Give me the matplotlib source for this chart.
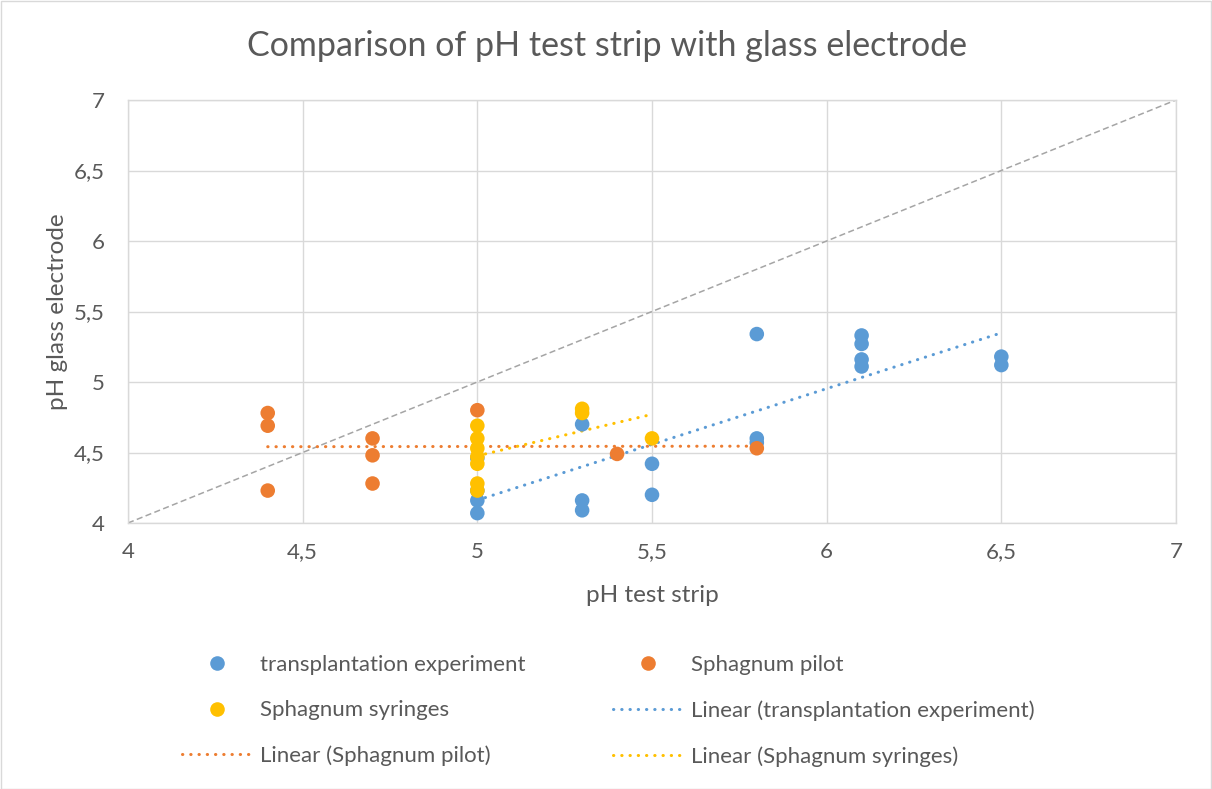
import numpy as np
import matplotlib
matplotlib.use('Agg')
import matplotlib.pyplot as plt
from matplotlib.lines import Line2D
from matplotlib.patches import Rectangle
from matplotlib.ticker import FuncFormatter, MultipleLocator

plt.rcParams['font.family'] = ['Lato', 'DejaVu Sans']

# pH test strip (x) against pH glass electrode (y)
transpl_x = [5, 5, 5, 5, 5.3, 5.3, 5.3, 5.5, 5.5, 5.8, 5.8, 5.8,
             6.1, 6.1, 6.1, 6.1, 6.5, 6.5]
transpl_y = [4.07, 4.16, 4.23, 4.46, 4.70, 4.16, 4.09, 4.42, 4.20, 5.34, 4.60, 4.57,
             5.33, 5.27, 5.16, 5.11, 5.18, 5.12]

pilot_x = [4.4, 4.4, 4.4, 4.7, 4.7, 4.7, 5, 5.4, 5.8]
pilot_y = [4.78, 4.69, 4.23, 4.60, 4.48, 4.28, 4.80, 4.49, 4.53]

syringe_x = [5, 5, 5, 5, 5, 5, 5, 5.3, 5.3, 5.5]
syringe_y = [4.69, 4.60, 4.53, 4.47, 4.42, 4.28, 4.23, 4.81, 4.78, 4.60]

one_to_one = [4, 7]

BLUE = '#5B9BD5'
ORANGE = '#ED7D31'
YELLOW = '#FFC000'
TXT = '#595959'
GRID = '#D9D9D9'

W, H = 1212, 789
fig = plt.figure(figsize=(W / 100, H / 100), dpi=100)
ax = fig.add_axes([128 / W, 1 - 523 / H, (1176 - 128) / W, (523 - 100) / H])

ax.set_xlim(4, 7)
ax.set_ylim(4, 7)
ax.xaxis.set_major_locator(MultipleLocator(0.5))
ax.yaxis.set_major_locator(MultipleLocator(0.5))
fmt = FuncFormatter(lambda v, p: f'{v:g}'.replace('.', ','))
ax.xaxis.set_major_formatter(fmt)
ax.yaxis.set_major_formatter(fmt)
ax.grid(True, color=GRID, lw=1.0, zorder=0)
ax.set_axisbelow(True)
for s in ax.spines.values():
    s.set_color(GRID)
    s.set_linewidth(1.0)
ax.tick_params(length=0, labelsize=16, labelcolor=TXT)
ax.tick_params(axis='x', pad=14)
ax.tick_params(axis='y', pad=17)

ax.plot(one_to_one, one_to_one, color='#A5A5A5', lw=1.1, dashes=(4, 2.2), zorder=1)

dot = dict(lw=2.2, dashes=(0.1, 2.6), dash_capstyle='round', zorder=2)
series = [
    (transpl_x, transpl_y, BLUE, 'transplantation experiment'),
    (pilot_x, pilot_y, ORANGE, 'Sphagnum pilot'),
    (syringe_x, syringe_y, YELLOW, 'Sphagnum syringes'),
]
for i, (x, y, c, name) in enumerate(series):
    ax.scatter(x, y, s=110, color=c, edgecolors='none', zorder=3 + i)
    m, b = np.polyfit(x, y, 1)
    xs = np.array([min(x), max(x)])
    ax.plot(xs, m * xs + b, color=c, **dot)

ax.set_xlabel('pH test strip', fontsize=17.5, color=TXT, labelpad=16)
ax.set_ylabel('pH glass electrode', fontsize=17.5, color=TXT, labelpad=4)
fig.text(607 / W, 1 - 46 / H, 'Comparison of pH test strip with glass electrode',
         ha='center', va='center', fontsize=24.5, color=TXT)

def mk(c):
    return Line2D([], [], marker='o', ls='none', ms=10.5, color=c, mec='none')

def ln(c):
    return Line2D([], [], color=c, **dot)

# column-major order so the legend reads row by row like the original
handles = [mk(BLUE), mk(YELLOW), ln(ORANGE), mk(ORANGE), ln(BLUE), ln(YELLOW)]
labels = ['transplantation experiment', 'Sphagnum syringes', 'Linear (Sphagnum pilot)',
          'Sphagnum pilot', 'Linear (transplantation experiment)', 'Linear (Sphagnum syringes)']
leg = fig.legend(handles, labels, ncol=2, loc='upper left',
                 bbox_to_anchor=(182 / W, 1 - 655 / H), frameon=False,
                 fontsize=16, labelcolor=TXT, handlelength=3.15, handletextpad=0.36,
                 columnspacing=3.95, labelspacing=1.14, borderpad=0, borderaxespad=0)

fig.patches.append(Rectangle((0.5 / W, 0.5 / H), 1 - 1.5 / W, 1 - 1.5 / H,
                             transform=fig.transFigure, fill=False,
                             edgecolor=GRID, lw=1.0))

fig.savefig('out.png', dpi=100)
